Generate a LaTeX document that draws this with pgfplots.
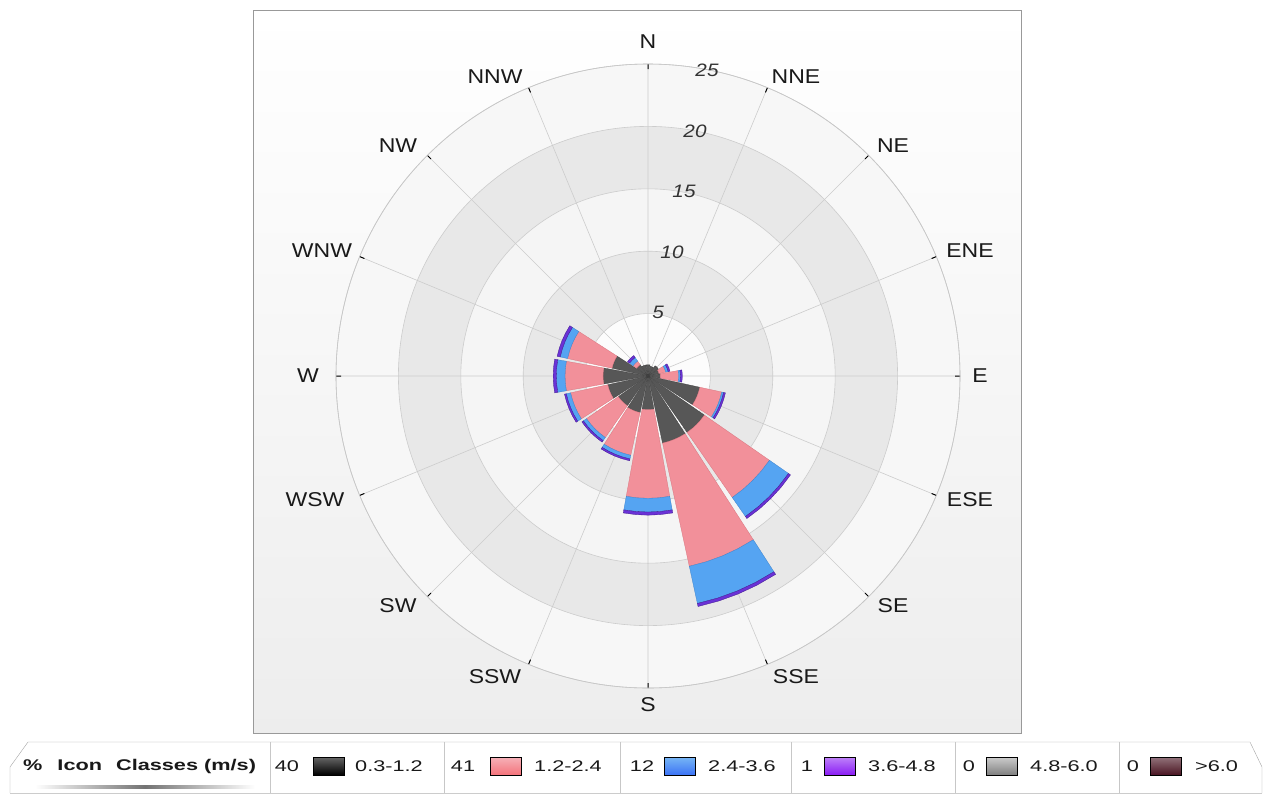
\documentclass[border=0pt]{standalone}
\usepackage{fontspec}
\setmainfont{Liberation Sans}[FakeStretch=1.15]
\newfontfamily\legfont{Liberation Sans}[FakeStretch=1.4]
\usepackage{pgfplots}
\pgfplotsset{compat=1.18}
\usepgfplotslibrary{polar}

\definecolor{cblk}{HTML}{575757}
\definecolor{cblkd}{HTML}{3E3E3E}
\definecolor{cpk}{HTML}{F2909A}
\definecolor{cpkd}{HTML}{D8747E}
\definecolor{cbl}{HTML}{55A4F2}
\definecolor{cbld}{HTML}{3C82CC}
\definecolor{cpu}{HTML}{6A32D6}
\definecolor{cpud}{HTML}{40188C}

\tikzset{
  blk/.style={fill=cblk, draw=cblkd, line width=0.3pt},
  pk/.style={fill=cpk, draw=cpkd, line width=0.3pt},
  bl/.style={fill=cbl, draw=cbld, line width=0.3pt},
  pu/.style={fill=cpu, draw=cpud, line width=0.3pt},
}

% one sector of a stacked wind-rose bar: #1 direction (degrees, math), #2 inner radius, #3 outer radius, #4 style
\newcommand\windsector[4]{%
  \pgfmathsetmacro\wsA{#1-10.25}%
  \pgfmathsetmacro\wsB{#1-5}%
  \pgfmathsetmacro\wsC{#1+5}%
  \pgfmathsetmacro\wsD{#1+10.25}%
  \edef\wstemp{\noexpand\addplot[#4] coordinates {(\wsA,#3) (\wsB,#3) (#1,#3) (\wsC,#3) (\wsD,#3) (\wsD,#2) (\wsC,#2) (#1,#2) (\wsB,#2) (\wsA,#2)} -- cycle;}%
  \wstemp}
% stacked bar: direction, cumulative tops of 0.3-1.2, 1.2-2.4, 2.4-3.6, 3.6-4.8
\newcommand\rose[5]{%
  \windsector{#1}{0}{#2}{blk}%
  \windsector{#1}{#2}{#3}{pk}%
  \windsector{#1}{#3}{#4}{bl}%
  \windsector{#1}{#4}{#5}{pu}}

\begin{document}
\begin{tikzpicture}[x=1pt,y=1pt]
\useasboundingbox (0,0) rectangle (1272,-795);
% plot frame
\shade[top color=white, bottom color=black!7] (253,-10) rectangle (1021,-733);
\begin{scope}[shift={(648,-376)}]
\fill[black!3] (0,0) circle (312);
\fill[black!9] (0,0) circle (249.6);
\fill[black!4] (0,0) circle (187.2);
\fill[black!9] (0,0) circle (124.8);
\fill[black!1] (0,0) circle (62.4);
\end{scope}
\draw[black!40] (253,-10) rectangle (1021,-733);

\begin{polaraxis}[
  at={(648pt,-376pt)}, anchor=center,
  scale only axis, width=624pt, height=624pt,
  ymin=0, ymax=25,
  xtick={0,22.5,45,67.5,90,112.5,135,157.5,180,202.5,225,247.5,270,292.5,315,337.5},
  xticklabels={},
  ytick={5,10,15,20,25}, yticklabels={},
  grid=major, major grid style={draw=black!20, line width=0.6pt},
  axis line style={draw=black!22, line width=0.6pt},
  y axis line style={draw=none},
  xtick style={draw=black, line width=1pt},
  ytick style={draw=none},
  tick align=outside, major tick length=5pt,
]
\rose{22.5}{0.9}{1.45}{1.65}{1.8}
\rose{0}{1.0}{2.45}{2.6}{2.75}
\rose{337.5}{4.25}{6.05}{6.2}{6.35}
\rose{315}{5.5}{11.85}{13.7}{13.9}
\rose{292.5}{5.5}{15.6}{18.65}{18.9}
\rose{270}{2.7}{9.8}{10.9}{11.15}
\rose{247.5}{3.0}{6.5}{6.8}{6.95}
\rose{225}{2.9}{6.0}{6.3}{6.45}
\rose{202.5}{3.3}{6.35}{6.7}{6.85}
\rose{180}{3.6}{6.65}{7.35}{7.6}
\rose{157.5}{2.95}{6.6}{7.2}{7.45}
\rose{135}{1.1}{1.45}{1.8}{2.0}
\windsector{90}{0}{0.9}{blk}
\windsector{67.5}{0}{0.8}{blk}
\windsector{45}{0}{1.0}{blk}
\windsector{112.5}{0}{0.9}{blk}
\end{polaraxis}

% direction labels
\begin{scope}[every node/.style={font=\fontsize{20}{24}\selectfont, text=black!90, inner sep=0pt}]
\node at (648,-42) {N};
\node at (796,-77) {NNE};
\node at (893,-146) {NE};
\node at (970,-251) {ENE};
\node at (980,-376) {E};
\node at (970,-500) {ESE};
\node at (893,-606) {SE};
\node at (796,-677) {SSE};
\node at (648,-705) {S};
\node at (495,-677) {SSW};
\node at (398,-606) {SW};
\node at (315,-500) {WSW};
\node at (308,-376) {W};
\node at (322,-251) {WNW};
\node at (398,-146) {NW};
\node at (495,-77) {NNW};
\end{scope}

% radial scale labels
\begin{scope}[every node/.style={font=\fontsize{18}{20}\selectfont\itshape, text=black!80}]
\node at (707,-70) {25};
\node at (695,-131) {20};
\node at (684,-191) {15};
\node at (672,-252) {10};
\node at (658,-312) {5};
\end{scope}

% legend strip
\fill[white] (28,-742) -- (1250,-742) -- (1262,-767) -- (1262,-793) -- (10,-793) -- (10,-767) -- cycle;
\draw[black!35] (10,-793) -- (10,-767) -- (28,-742) -- (1250,-742) -- (1262,-767) -- (1262,-793);
\draw[black!20] (10,-793) -- (1262,-793);
\foreach \xs in {270,444,620,791,955,1119} \draw[black!22] (\xs,-742) -- (\xs,-793);
\shade[left color=white, right color=white, middle color=black!55] (35,-785) rectangle (255,-788);
\begin{scope}[every node/.style={font=\legfont\fontsize{15.5}{18}\selectfont, text=black!90, inner sep=0pt}]
\node[anchor=west, font=\legfont\bfseries\fontsize{15.5}{18}\selectfont] at (23,-766) {\%\hspace{15pt}Icon\hspace{14pt}Classes (m/s)};
\node at (287,-766) {40};
\shade[top color=black!60, bottom color=black, draw=black] (313,-757) rectangle (344,-775);
\node[anchor=west] at (355,-766) {0.3-1.2};
\node at (463,-766) {41};
\shade[top color=cpk!70!white, bottom color=cpk!80!red, draw=black] (490,-757) rectangle (521,-775);
\node[anchor=west] at (534,-766) {1.2-2.4};
\node at (642,-766) {12};
\shade[top color=cbl!80!white, bottom color=cbl!70!blue, draw=black] (664,-757) rectangle (695,-775);
\node[anchor=west] at (708,-766) {2.4-3.6};
\node at (807,-766) {1};
\definecolor{lgpu}{HTML}{8A1CF5}
\shade[top color=lgpu!55!white, bottom color=lgpu, draw=black] (824,-757) rectangle (855,-775);
\node[anchor=west] at (868,-766) {3.6-4.8};
\node at (969,-766) {0};
\shade[top color=black!20, bottom color=black!50, draw=black] (986,-757) rectangle (1017,-775);
\node[anchor=west] at (1030,-766) {4.8-6.0};
\node at (1133,-766) {0};
\definecolor{lgmr}{HTML}{4A1522}
\shade[top color=lgmr!60!white, bottom color=lgmr, draw=black] (1150,-757) rectangle (1181,-775);
\node[anchor=west] at (1195,-766) {>6.0};
\end{scope}
\end{tikzpicture}
\end{document}
